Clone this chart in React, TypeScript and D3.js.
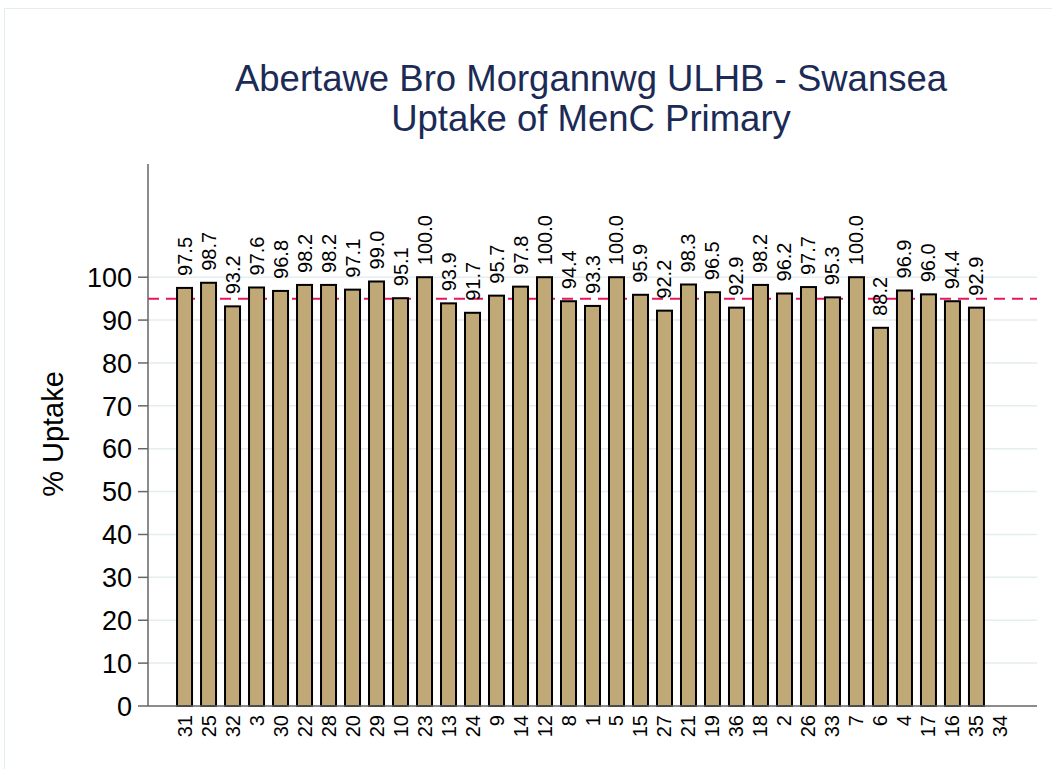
import React from "react";
import * as d3 from "d3";

const titleLines = ["Abertawe Bro Morgannwg ULHB - Swansea", "Uptake of MenC Primary"];
const yLabel = "% Uptake";
const categories = ["31","25","32","3","30","22","28","20","29","10","23","13","24","9","14","12","8","1","5","15","27","21","19","36","18","2","26","33","7","6","4","17","16","35","34"];
const values: (number | null)[] = [97.5,98.7,93.2,97.6,96.8,98.2,98.2,97.1,99.0,95.1,100.0,93.9,91.7,95.7,97.8,100.0,94.4,93.3,100.0,95.9,92.2,98.3,96.5,92.9,98.2,96.2,97.7,95.3,100.0,88.2,96.9,96.0,94.4,92.9,null];
const yTicks = [0,10,20,30,40,50,60,70,80,90,100];
const target = 95;

const W = 1052, H = 769;
const left = 148, right = 1037, top = 164, bottom = 706;

export default function App() {
  const x = d3.scaleBand<string>().domain(categories).range([left, right]).paddingInner(0.375).paddingOuter(1.21);
  const y = d3.scaleLinear().domain([0, 126.4]).range([bottom, top]);
  const font = "'Liberation Sans', Arial, Helvetica, sans-serif";
  return (
    <svg width={W} height={H} style={{ position: "absolute", left: 0, top: 0 }} fontFamily={font}>
      <rect x={0} y={0} width={W} height={H} fill="#fff" />
      <rect x={4.5} y={8.5} width={W + 20} height={H + 20} fill="none" stroke="#e3ecee" strokeWidth={1} />
      {titleLines.map((t, i) => (
        <text key={i} x={591} y={91 + i * 40} textAnchor="middle" fontSize={36.5} fill="#1c2b56">{t}</text>
      ))}
      {yTicks.map(t => (
        <g key={t}>
          {t > 0 && <line x1={left} x2={right} y1={y(t)} y2={y(t)} stroke="#e4edef" strokeWidth={1.5} />}
          <line x1={left - 10} x2={left} y1={y(t)} y2={y(t)} stroke="#666" strokeWidth={1.5} />
          <text x={132} y={y(t)} dy="0.36em" textAnchor="end" fontSize={27} fill="#000">{t}</text>
        </g>
      ))}
      <line x1={left} x2={right} y1={y(target)} y2={y(target)} stroke="#e8175d" strokeWidth={2} strokeDasharray="11,7" />
      {categories.map((c, i) => {
        const v = values[i];
        const cx = (x(c) as number) + x.bandwidth() / 2;
        return (
          <g key={c}>
            {v !== null && (
              <>
                <rect x={x(c)} y={y(v)} width={x.bandwidth()} height={y(0) - y(v)} fill="#c0a877" stroke="#000" strokeWidth={2} />
                <text transform={`translate(${cx + 7},${y(v) - 12}) rotate(-90)`} fontSize={20} fill="#000">{v.toFixed(1)}</text>
              </>
            )}
            <text transform={`translate(${cx + 7},${bottom + 9}) rotate(-90)`} textAnchor="end" fontSize={20} fill="#000">{c}</text>
          </g>
        );
      })}
      <line x1={left} x2={right} y1={bottom} y2={bottom} stroke="#666" strokeWidth={1.5} />
      <line x1={left} x2={left} y1={top} y2={bottom} stroke="#666" strokeWidth={1.5} />
      <text transform={`translate(63,434) rotate(-90)`} textAnchor="middle" fontSize={29} fill="#000">{yLabel}</text>
    </svg>
  );
}
